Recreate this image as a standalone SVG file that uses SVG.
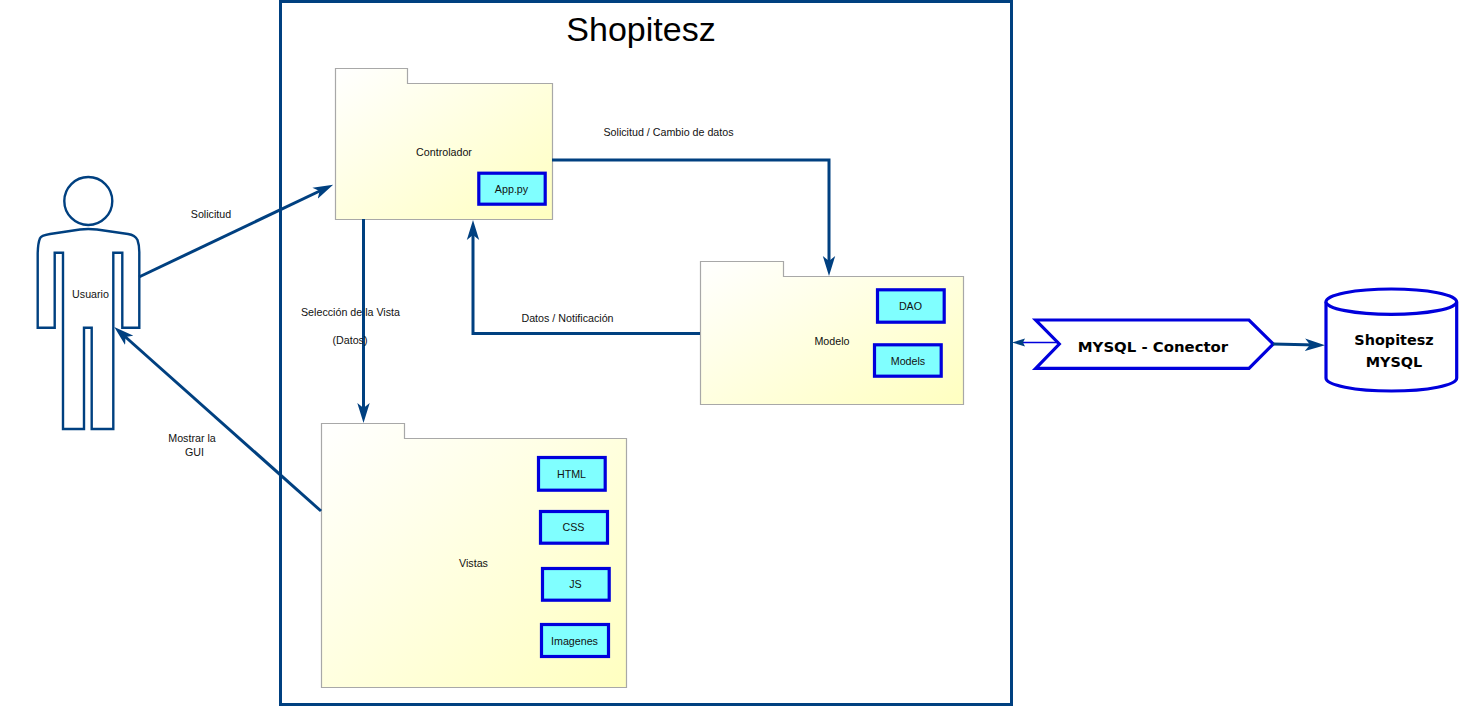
<svg xmlns="http://www.w3.org/2000/svg" width="1465" height="706" viewBox="0 0 1465 706">
<style>
text{font-family:"Liberation Sans",Arial,sans-serif;font-size:10.7px;fill:#111;text-anchor:middle}
.pkg{fill:url(#pg);stroke:#a8a8a8;stroke-width:1.2}
.box{fill:#80ffff;stroke:#0000dc;stroke-width:3.2}
.blue{fill:#fff;stroke:#0000dc;stroke-width:3.2}
.fig{fill:#fff;stroke:#004080;stroke-width:2.4}
.con{fill:none;stroke:#004080;stroke-width:3}
.b{font-family:"DejaVu Sans",Verdana,sans-serif;font-weight:bold;font-size:14.4px;fill:#000}
</style>
<defs>
<linearGradient id="pg" x1="0" y1="0" x2="1" y2="1"><stop offset="0" stop-color="#ffffff"/><stop offset="1" stop-color="#ffffc0"/></linearGradient>
<marker id="ah" markerUnits="userSpaceOnUse" markerWidth="20" markerHeight="14" viewBox="0 0 20 14" refX="11" refY="7" orient="auto"><path d="M0,0.8 L20,7 L0,13.2 L5,7 Z" fill="#004080"/></marker>
<marker id="as" markerUnits="userSpaceOnUse" markerWidth="13" markerHeight="9" viewBox="0 0 13 9" refX="6" refY="4.5" orient="auto"><path d="M0,0.5 L13,4.5 L0,8.5 L2,4.5 Z" fill="#004080"/></marker>
</defs>
<rect width="1465" height="706" fill="#fff"/>
<g id="system"><rect x="280.5" y="1.5" width="731" height="703" fill="#fff" stroke="#004080" stroke-width="3"/><text x="641" y="41" style="font-size:34px;fill:#000">Shopitesz</text></g>
<g id="usuario"><circle class="fig" cx="88.3" cy="201" r="24"/><path class="fig" d="M37.7,327.7 L37.7,253 Q38,243 40,238.3 Q41,235.5 50,234 L80,229.5 Q88,228.5 97,229.5 L128,234 Q135,235 137.5,240 Q139.3,245 139.3,252 L139.3,327.7 L122.3,327.7 L122.3,252.7 L113.3,252.7 L113.3,429 L91.7,429 L91.7,327.7 L84,327.7 L84,429 L63,429 L63,252.7 L54.7,252.7 L54.7,327.7 Z"/><text x="90.5" y="298">Usuario</text></g>
<g id="controlador"><path class="pkg" d="M335.5,68.5 H407.5 V83.5 H552.5 V219.5 H335.5 Z"/><text x="444" y="156">Controlador</text><rect class="box" x="478.8" y="173.2" width="66.4" height="31"/><text x="511.5" y="193">App.py</text></g>
<g id="modelo"><path class="pkg" d="M700.5,261.5 H783.5 V276.5 H963.5 V404.5 H700.5 Z"/><text x="832" y="345">Modelo</text><rect class="box" x="877.5" y="289.8" width="66.7" height="32.4"/><text x="910.5" y="310">DAO</text><rect class="box" x="874.5" y="344.8" width="66.7" height="31.4"/><text x="908" y="365">Models</text></g>
<g id="vistas"><path class="pkg" d="M321.5,423.5 H404.5 V438.5 H626.5 V687.5 H321.5 Z"/><text x="473.5" y="567">Vistas</text>
<rect class="box" x="538.5" y="457.5" width="66.7" height="32.7"/><text x="571.5" y="478">HTML</text>
<rect class="box" x="540.5" y="511.5" width="67" height="31.7"/><text x="573.5" y="531">CSS</text>
<rect class="box" x="542.5" y="568.5" width="66.7" height="31.7"/><text x="575.5" y="588">JS</text>
<rect class="box" x="541.5" y="624.5" width="67" height="32"/><text x="574.5" y="645">Imagenes</text></g>
<g id="conector"><path class="blue" d="M1035.7,320 H1249 L1273.3,344 L1249,368.3 H1035.7 L1059.3,344 Z"/><text class="b" style="font-size:14.9px" x="1153" y="352">MYSQL - Conector</text></g>
<g id="bd"><path class="blue" d="M1326,301.7 V378 A65.3,13 0 0 0 1456.7,378 V301.7"/><ellipse class="blue" cx="1391.3" cy="301.7" rx="65.3" ry="12.7"/><text class="b" x="1394" y="345">Shopitesz</text><text class="b" x="1394" y="367">MYSQL</text></g>
<g id="connectors">
<line class="con" x1="139" y1="277" x2="325" y2="188.5" marker-end="url(#ah)"/>
<line class="con" x1="321" y1="511" x2="121" y2="333" marker-end="url(#ah)"/>
<line class="con" x1="363.5" y1="219" x2="363.5" y2="414" marker-end="url(#ah)"/>
<path class="con" d="M552,160 H829 V267" marker-end="url(#ah)"/>
<path class="con" d="M700,333.5 H473 V229" marker-end="url(#ah)"/>
<line x1="1059" y1="342.5" x2="1019" y2="342.5" stroke="#0000dc" stroke-width="1.3" marker-end="url(#as)"/>
<line class="con" x1="1273" y1="344" x2="1316" y2="345" marker-end="url(#ah)"/>
</g>
<g id="labels">
<text x="211" y="218">Solicitud</text>
<text x="668.5" y="136">Solicitud / Cambio de datos</text>
<text x="567.5" y="322">Datos / Notificación</text>
<text x="350.5" y="316">Selección de la Vista</text>
<text x="350" y="344">(Datos)</text>
<text x="192" y="442">Mostrar la</text>
<text x="194.5" y="456">GUI</text>
</g>
</svg>
